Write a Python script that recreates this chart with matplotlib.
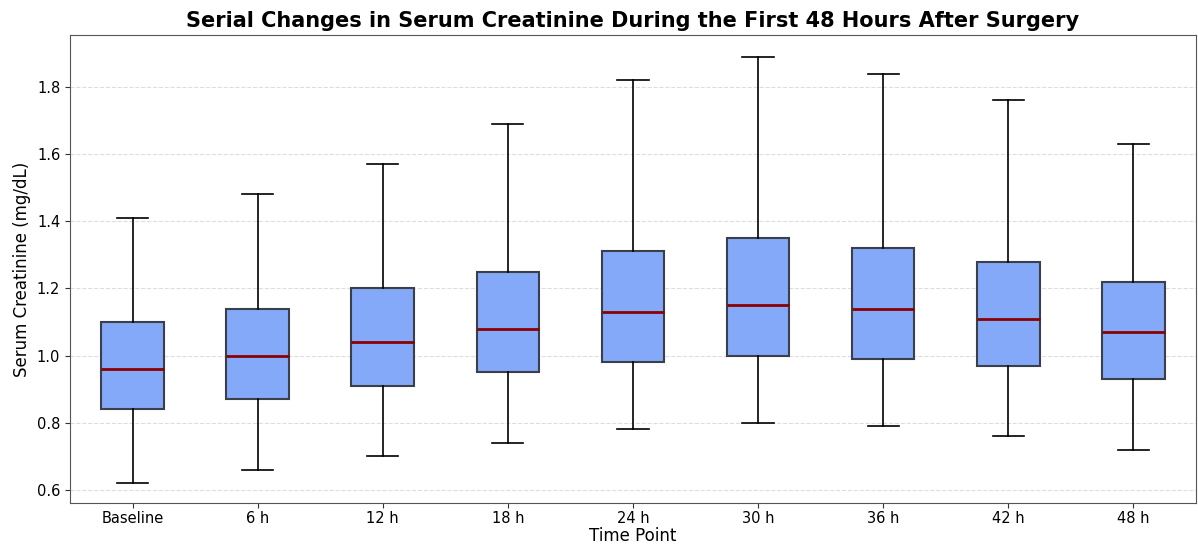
import numpy as np
import matplotlib.pyplot as plt

labels = ['Baseline', '6 h', '12 h', '18 h', '24 h', '30 h', '36 h', '42 h', '48 h']
whislo = [0.62, 0.66, 0.70, 0.74, 0.78, 0.80, 0.79, 0.76, 0.72]
q1 = [0.84, 0.87, 0.91, 0.95, 0.98, 1.00, 0.99, 0.97, 0.93]
med = [0.96, 1.00, 1.04, 1.08, 1.13, 1.15, 1.14, 1.11, 1.07]
q3 = [1.10, 1.14, 1.20, 1.25, 1.31, 1.35, 1.32, 1.28, 1.22]
whishi = [1.41, 1.48, 1.57, 1.69, 1.82, 1.89, 1.84, 1.76, 1.63]

stats = []
for i in range(len(labels)):
    stats.append(dict(label=labels[i], whislo=whislo[i], q1=q1[i], med=med[i],
                      q3=q3[i], whishi=whishi[i], fliers=[]))

fig, ax = plt.subplots(figsize=(11.98, 5.45), dpi=100)
fig.subplots_adjust(left=0.0584, right=0.9983, top=0.936, bottom=0.077)

ax.bxp(stats, widths=0.5, patch_artist=True, showfliers=False,
       boxprops=dict(facecolor='#84a9f8', edgecolor='#3a3f4a', linewidth=1.5),
       medianprops=dict(color='darkred', linewidth=2),
       whiskerprops=dict(color='black', linewidth=1.2),
       capprops=dict(color='black', linewidth=1.2))

ax.set_ylim(0.561, 1.955)
ax.set_yticks([0.6, 0.8, 1.0, 1.2, 1.4, 1.6, 1.8])
ax.yaxis.grid(True, linestyle='--', color='#dddddd', linewidth=0.8)
ax.set_axisbelow(True)
for s in ax.spines.values():
    s.set_color('#555555')
ax.tick_params(colors='#333333', labelsize=10.5)
ax.tick_params(axis='x', pad=2.5)
for t in ax.get_xticklabels() + ax.get_yticklabels():
    t.set_color('black')

ax.set_title('Serial Changes in Serum Creatinine During the First 48 Hours After Surgery',
             fontsize=15, fontweight='bold')
ax.set_xlabel('Time Point', fontsize=12, labelpad=0.5)
ax.set_ylabel('Serum Creatinine (mg/dL)', fontsize=12)

fig.savefig('out.png', dpi=100)
